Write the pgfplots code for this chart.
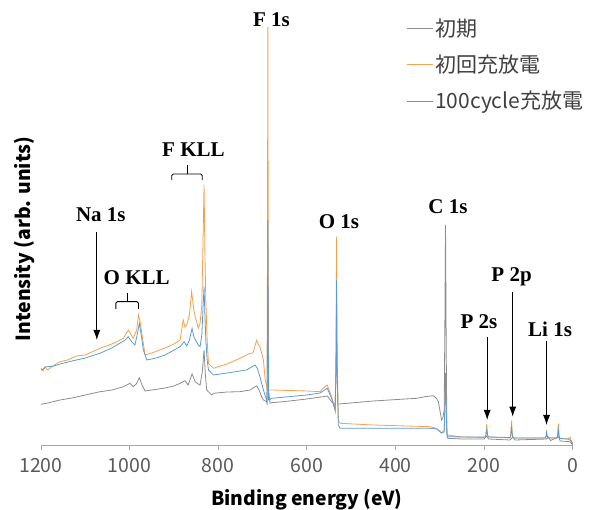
\documentclass[border=0pt]{standalone}
\usepackage{fontspec}
\usepackage{pgfplots}
\pgfplotsset{compat=1.18}
\usetikzlibrary{arrows.meta}
\setmainfont{Noto Sans CJK JP}
\newfontfamily\jp{Noto Sans CJK JP}
\newfontfamily\tnr{Liberation Serif}
\definecolor{cgray}{HTML}{8C8C8C}
\definecolor{corange}{HTML}{F5A04A}
\definecolor{cblue}{HTML}{5B9BD5}
\definecolor{ctick}{HTML}{595959}
\definecolor{clegend}{HTML}{3F3F3F}
\definecolor{caxis}{HTML}{A6A6A6}
\pgfplotstableread{
be v
1200 40.7
1185 42
1157 45
1130 47
1100 50
1070 53
1040 55
1014 58.3
999 61.7
992 58.3
985 61
978 67.3
972 60
965 54
950 55
920 57
900 59
886 61.7
875 64.3
868 60
859 71
852 63.3
845 61
841 60
836 73
832 95
829 70
826 55
815 50
811 51.7
780 53
751 53.3
728 55
717 58.3
713 59
708 55
702 48.3
698 45
691 43.3
689.5 60
688 200
686.5 55
683 41.7
679 42.3
653 43.3
600 46
563 48.3
554 49
544 43.3
536 40
534 80
533 150
532 80
530 41
527 41
450 44
352 46.7
333 48.3
315 49.3
308 47
303 43.3
296 25
293 27
290 35
288.5 120
287 220
285.5 100
284 15
283 6.7
250 6
200 6
194 9
190 6
141.5 5
135 8
130 5
59 6
55 8
50 4.5
32 8
28 4
6 3.3
0 0
}\grayT
\pgfplotstableread{
be v
1200 76.7
1195 74
1191 78.3
1185 75
1170 80
1157 83.3
1140 85
1120 89
1100 90
1085 93
1067 96.7
1040 101
1014 106.7
1003 115
992 106.7
984 115
980 130
977 125
972 110
965 90
950 92
920 97
900 101
886 105
879 125
875 118
871 120
865 130
860 153.3
855 135
852 128.3
848 122
845 116.7
841 121.7
837 140
834.5 200
832 260
830 190
828 145
825 105
822 81.7
811 76.7
780 81
751 86.7
740 89
728 91.7
722 91.7
713 105
709 100
706 98.3
698 85
694 65
691 60
689.5 55
688 418
686.5 55
683 55
679 55
600 54
570 53.3
563 56.7
554 60
544 48.3
536 33.3
534 100
533 208
532 100
529 25
525 21.7
450 20
322 18.3
307 16.7
296 11.7
290 15
288.5 40
287 72
285.5 40
284 15
283 10
250 8
200 7.5
196 9
194 21
192 9
190 8
141 7
140 10
138 24.3
136 10
134 7
62 7
60 9
59 15
57.5 9
56 7
36 7
34 10
32.5 21.7
31 10
29 6.5
10 6
6 8
3 4
0 1.7
}\orangeT
\pgfplotstableread{
be v
1200 75
1195 76
1190 78
1170 79
1157 81
1130 84
1100 87
1067 91.7
1040 97
1010 105
1003 108.3
995 103
988 100
983 110
978 121.7
973 108
969 95
961 85
940 87
920 90
886 98.3
877 103.3
871 99
865 105
859 116.7
855 108
849 103.3
845 100
841 98.3
837 110
834.5 135
832 158.3
830 130
828 105
825 85
822 75
811 70
780 72
736 75
717 80
712 77
706 68.3
698 55
691 45
689.5 40
688 225
686.5 45
685 45
679 46.7
600 50
570 52
554 56.7
544 46.7
536 35
534 80
533 165
532 80
529 20
525 16.7
322 16.7
307 16
296 12.3
290 13
288.5 40
287 72
285.5 40
284 13
283 8.3
250 8
197 8
196 10
194 15
192 10
190 8
141 7.5
140 9
138 17
136 9
134 7
62 7
60 8.5
59 12
57.5 8.5
56 7
36 7
34 9
32.5 17
31 9
29 6.5
10 6
3 4
0 1
}\blueT
\begin{document}
\begin{tikzpicture}
\begin{axis}[
  at={(41pt,65pt)}, anchor=south west,
  scale only axis, width=531.7pt, height=435pt,
  xmin=0, xmax=1200, x dir=reverse,
  ymin=0, ymax=435,
  clip=false,
  axis x line*=bottom,
  y axis line style={draw=none},
  ytick=\empty,
  x axis line style={caxis, line width=0.8pt},
  xtick={0,200,...,1200},
  tick align=outside,
  major tick length=5pt,
  xtick style={caxis, line width=0.8pt},
  /pgf/number format/assume math mode=true,
  /pgf/number format/1000 sep={},
  xticklabel style={font=\fontsize{19.5}{19.5}\selectfont, text=ctick, yshift=-5pt},
  xlabel={Binding energy (eV)},
  ylabel={Intensity (arb. units)},
  every axis x label/.style={at={(axis description cs:0.5,-0.1385)}, anchor=base, font=\jp\bfseries\fontsize{19.3}{19.3}\selectfont, text=black},
  every axis y label/.style={at={(axis description cs:-0.032,0.4736)}, rotate=90, anchor=center, font=\jp\bfseries\fontsize{19.4}{19.4}\selectfont, text=black},
  every axis plot/.append style={line width=0.8pt},
]
\addplot[cgray] table[x=be, y=v] {\grayT};
\addplot[corange] table[x=be, y=v] {\orangeT};
\addplot[cblue] table[x=be, y=v] {\blueT};

% legend (swatches and names)
\draw[cgray, line width=1pt] (axis cs:374,416) -- (axis cs:315.3,416);
\draw[corange, line width=1pt] (axis cs:374,380) -- (axis cs:315.3,380);
\draw[cblue, line width=1pt] (axis cs:374,343.3) -- (axis cs:315.3,343.3);
\node[anchor=west, inner sep=1pt, text=clegend, font=\jp\fontsize{21}{21}\selectfont] at (axis cs:313,416) {初期};
\node[anchor=west, inner sep=1pt, text=clegend, font=\jp\fontsize{21}{21}\selectfont] at (axis cs:313,380) {初回充放電};
\node[anchor=west, inner sep=1pt, text=clegend, font=\jp\fontsize{21}{21}\selectfont] at (axis cs:313,343.3) {100cycle充放電};

\tikzset{lab/.style={font=\tnr\bfseries\fontsize{21}{21}\selectfont, anchor=center},
  arr/.style={-{Latex[length=10pt,width=7pt]}, line width=0.9pt}}
\node[lab] at (axis cs:680,425) {F 1s};
\node[lab] at (axis cs:856,295) {F KLL};
\draw[line width=0.9pt, rounded corners=1.5pt] (axis cs:905,265) -- (axis cs:905,271) -- (axis cs:836,271) -- (axis cs:836,265);
\draw[line width=0.9pt] (axis cs:869,271) -- (axis cs:869,280);
\node[lab] at (axis cs:1065,230) {Na 1s};
\draw[arr] (axis cs:1074,213.3) -- (axis cs:1074,105);
\node[lab] at (axis cs:984,167) {O KLL};
\draw[line width=0.9pt, rounded corners=1.5pt] (axis cs:1031,136) -- (axis cs:1031,143.3) -- (axis cs:980,143.3) -- (axis cs:980,136);
\draw[line width=0.9pt] (axis cs:1004,143.3) -- (axis cs:1004,152.3);
\node[lab] at (axis cs:527.5,223.3) {O 1s};
\node[lab] at (axis cs:281.5,238.3) {C 1s};
\node[lab] at (axis cs:211.5,123.3) {P 2s};
\draw[arr] (axis cs:193,108) -- (axis cs:193,25);
\node[lab] at (axis cs:138,168.3) {P 2p};
\draw[arr] (axis cs:135.4,153.3) -- (axis cs:135.4,28.3);
\node[lab] at (axis cs:51,115.7) {Li 1s};
\draw[arr] (axis cs:59,104.3) -- (axis cs:59,20);
\end{axis}
\pgfresetboundingbox
\useasboundingbox (0,0) rectangle (589pt,510pt);
\end{tikzpicture}
\end{document}
